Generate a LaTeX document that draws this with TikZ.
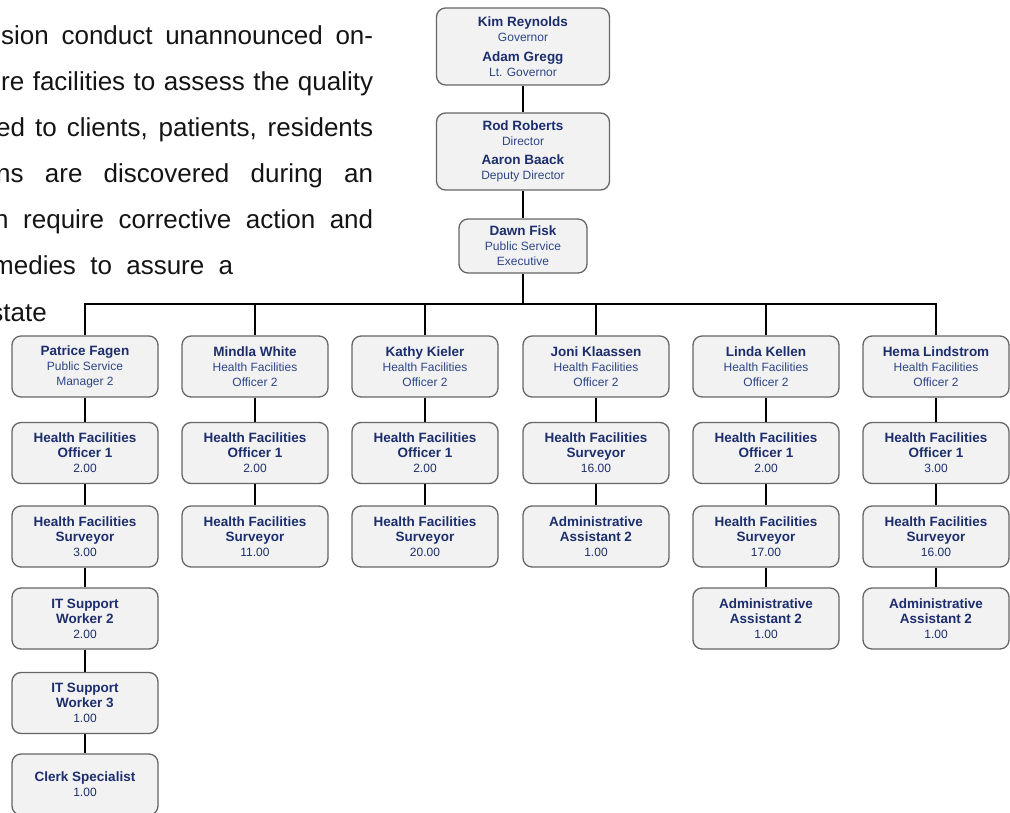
\documentclass[tikz,border=0pt]{standalone}
\usepackage{fontspec}
\setmainfont{Liberation Sans}
\definecolor{navy}{HTML}{1C2E6C}
\definecolor{navyl}{HTML}{2C4584}
\definecolor{boxfill}{HTML}{F2F2F2}
\definecolor{boxline}{HTML}{666666}
\definecolor{paratext}{HTML}{141414}
\newcommand\orgname[1]{{\bfseries\fontsize{13.5}{15}\selectfont #1}}
\newcommand\orgsub[1]{{\color{navyl}#1}}
\begin{document}
\begin{tikzpicture}[x=1pt,y=-1pt,
  box/.style={draw=boxline, line width=1.3pt, fill=boxfill, rounded corners=9pt,
    minimum width=146pt, minimum height=61pt, align=center, inner sep=0pt,
    text=navy, font=\fontsize{12}{15}\selectfont},
  conn/.style={line width=2pt, draw=black},
  para/.style={anchor=base west, inner sep=0pt, text=paratext, font=\fontsize{26}{30}\selectfont}]
\useasboundingbox (0,0) rectangle (1010,813);

% paragraph text (cut at the left edge)
\node[para] (p1) at (1,45)  {\makebox[372pt][s]{sion conduct unannounced on-}};
\node[para] (p2) at (1,91)  {\makebox[372pt][s]{re facilities to assess the quality}};
\node[para] (p3) at (-4,137) {\makebox[377pt][s]{ed to clients, patients, residents}};
\node[para] (p4) at (-4,183) {\makebox[377pt][s]{ns are discovered during an}};
\node[para] (p5) at (-6,229) {\makebox[379pt][s]{n require corrective action and}};
\node[para] (p6) at (-8,275) {\makebox[241pt][s]{medies to assure a}};
\node[para, anchor=base east] (p7) at (47,321) {state};

% top of chart
\node[box, minimum width=173pt, minimum height=77pt] (gov) at (523,46.5)
  {\orgname{Kim Reynolds}\\\orgsub{Governor}\\[5pt]\orgname{Adam Gregg}\\\orgsub{Lt. Governor}};
\node[box, minimum width=173pt, minimum height=77pt] (dir) at (523,151.5)
  {\orgname{Rod Roberts}\\\orgsub{Director}\\[4pt]\orgname{Aaron Baack}\\\orgsub{Deputy Director}};
\node[box, minimum width=128pt, minimum height=54pt] (pse) at (523,246)
  {\orgname{Dawn Fisk}\\\orgsub{Public Service}\\\orgsub{Executive}};
\coordinate (bus) at (523,304);

% column 1
\node[box] (a1) at (85,366.5) {\orgname{Patrice Fagen}\\\orgsub{Public Service}\\\orgsub{Manager 2}};
\node[box] (a2) at (85,453)   {\orgname{Health Facilities}\\\orgname{Officer 1}\\2.00};
\node[box] (a3) at (85,536.5) {\orgname{Health Facilities}\\\orgname{Surveyor}\\3.00};
\node[box] (a4) at (85,618.5) {\orgname{IT Support}\\\orgname{Worker 2}\\2.00};
\node[box] (a5) at (85,703)   {\orgname{IT Support}\\\orgname{Worker 3}\\1.00};
\node[box] (a6) at (85,784.5) {\orgname{Clerk Specialist}\\1.00};

% column 2
\node[box] (b1) at (255,366.5) {\orgname{Mindla White}\\\orgsub{Health Facilities}\\\orgsub{Officer 2}};
\node[box] (b2) at (255,453)   {\orgname{Health Facilities}\\\orgname{Officer 1}\\2.00};
\node[box] (b3) at (255,536.5) {\orgname{Health Facilities}\\\orgname{Surveyor}\\11.00};

% column 3
\node[box] (c1) at (425,366.5) {\orgname{Kathy Kieler}\\\orgsub{Health Facilities}\\\orgsub{Officer 2}};
\node[box] (c2) at (425,453)   {\orgname{Health Facilities}\\\orgname{Officer 1}\\2.00};
\node[box] (c3) at (425,536.5) {\orgname{Health Facilities}\\\orgname{Surveyor}\\20.00};

% column 4
\node[box] (d1) at (596,366.5) {\orgname{Joni Klaassen}\\\orgsub{Health Facilities}\\\orgsub{Officer 2}};
\node[box] (d2) at (596,453)   {\orgname{Health Facilities}\\\orgname{Surveyor}\\16.00};
\node[box] (d3) at (596,536.5) {\orgname{Administrative}\\\orgname{Assistant 2}\\1.00};

% column 5
\node[box] (e1) at (766,366.5) {\orgname{Linda Kellen}\\\orgsub{Health Facilities}\\\orgsub{Officer 2}};
\node[box] (e2) at (766,453)   {\orgname{Health Facilities}\\\orgname{Officer 1}\\2.00};
\node[box] (e3) at (766,536.5) {\orgname{Health Facilities}\\\orgname{Surveyor}\\17.00};
\node[box] (e4) at (766,618.5) {\orgname{Administrative}\\\orgname{Assistant 2}\\1.00};

% column 6
\node[box] (f1) at (936,366.5) {\orgname{Hema Lindstrom}\\\orgsub{Health Facilities}\\\orgsub{Officer 2}};
\node[box] (f2) at (936,453)   {\orgname{Health Facilities}\\\orgname{Officer 1}\\3.00};
\node[box] (f3) at (936,536.5) {\orgname{Health Facilities}\\\orgname{Surveyor}\\16.00};
\node[box] (f4) at (936,618.5) {\orgname{Administrative}\\\orgname{Assistant 2}\\1.00};

% connectors
\draw[conn] (gov) -- (dir);
\draw[conn] (dir) -- (pse);
\draw[conn] (pse) -- (bus);
\foreach \m in {a1,b1,c1,d1,e1,f1} {\draw[conn] (bus) -| (\m);}
\draw[conn] (a1) -- (a2); \draw[conn] (a2) -- (a3); \draw[conn] (a3) -- (a4);
\draw[conn] (a4) -- (a5); \draw[conn] (a5) -- (a6);
\draw[conn] (b1) -- (b2); \draw[conn] (b2) -- (b3);
\draw[conn] (c1) -- (c2); \draw[conn] (c2) -- (c3);
\draw[conn] (d1) -- (d2); \draw[conn] (d2) -- (d3);
\draw[conn] (e1) -- (e2); \draw[conn] (e2) -- (e3); \draw[conn] (e3) -- (e4);
\draw[conn] (f1) -- (f2); \draw[conn] (f2) -- (f3); \draw[conn] (f3) -- (f4);
\end{tikzpicture}
\end{document}
